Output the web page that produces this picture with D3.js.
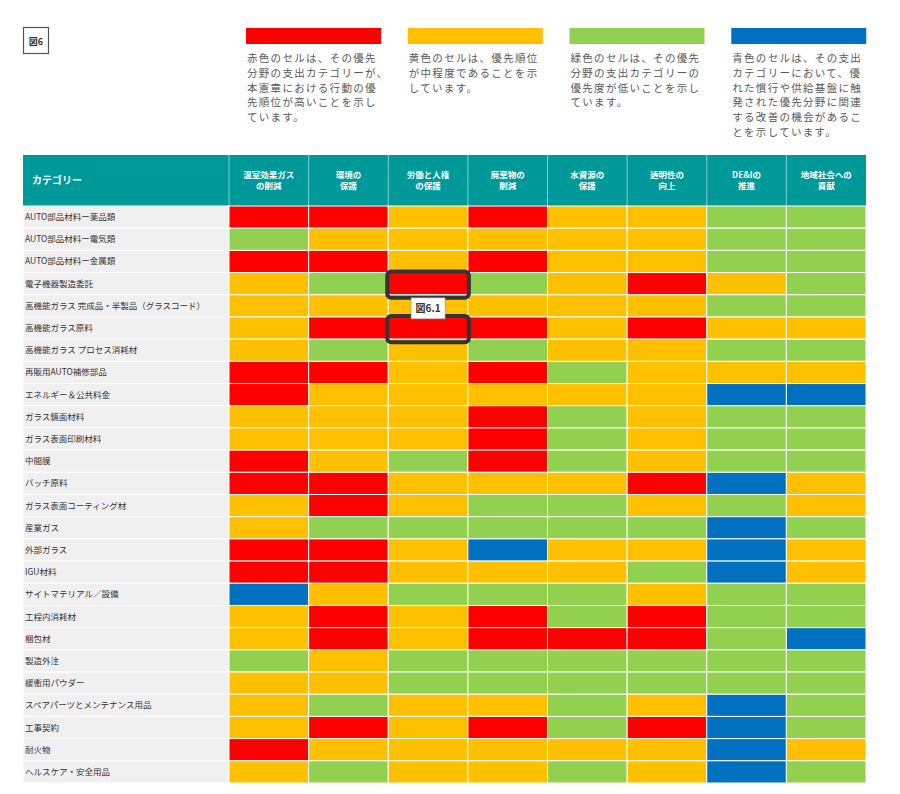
<!DOCTYPE html>
<html>
<head>
<meta charset="utf-8">
<script src="https://cdn.jsdelivr.net/npm/d3@7"></script>
<style>
  body { margin: 0; background: #fff; }
  svg { font-family: "Noto Sans CJK JP", "Noto Sans", sans-serif; }
</style>
</head>
<body>
<svg id="chart" width="900" height="794"></svg>
<script>
var columns = [
  '温室効果ガス\nの削減', '環境の\n保護', '労働と人権\nの保護', '廃棄物の\n削減',
  '水資源の\n保護', '透明性の\n向上', 'DE&Iの\n推進', '地域社会への\n貢献'
];

var categories = [
  'AUTO部品材料ー薬品類', 'AUTO部品材料ー電気類', 'AUTO部品材料ー金属類', '電子機器製造委託',
  '高機能ガラス 完成品・半製品（グラスコード）', '高機能ガラス原料', '高機能ガラス プロセス消耗材',
  '再販用AUTO補修部品', 'エネルギー＆公共料金', 'ガラス鏡面材料', 'ガラス表面印刷材料', '中間膜',
  'バッチ原料', 'ガラス表面コーティング材', '産業ガス', '外部ガラス', 'IGU材料',
  'サイトマテリアル／設備', '工程内消耗材', '梱包材', '製造外注', '緩衝用パウダー',
  'スペアパーツとメンテナンス用品', '工事契約', '耐火物', 'ヘルスケア・安全用品'
];

// R = high, Y = medium, G = low, B = opportunity
var priorities = [
  'RRYRYYGG', 'GYYYYYGG', 'RRYRYYGG', 'YGRGYRYG',
  'YYYYYYGG', 'YRRRYRYY', 'YGYGYYGG', 'RRYRGYYY',
  'RYYYYYBB', 'YYYRGYGG', 'YYYRGYGG', 'RYGRGYGG',
  'RRYYYRBY', 'YRYGGYGY', 'YGGGGGBG', 'RRYBYYBY',
  'RRYYYGBY', 'BYGGGYGG', 'YRYRGRGG', 'YRYRRRGB',
  'GYGGGGGG', 'YYGGGGGG', 'YGYYGYBG', 'YRYRGRBG',
  'RYYYYYBY', 'YGYYGYBG'
];

var levels = ['R', 'Y', 'G', 'B'];
var levelColors = ['#ff0000', '#ffc000', '#92d050', '#0070c0'];

var legendTexts = [
  ['赤色のセルは、その優先', '分野の支出カテゴリーが、', '本憲章における行動の優', '先順位が高いことを示し', 'ています。'],
  ['黄色のセルは、優先順位', 'が中程度であることを示', 'しています。'],
  ['緑色のセルは、その優先', '分野の支出カテゴリーの', '優先度が低いことを示し', 'ています。'],
  ['青色のセルは、その支出', 'カテゴリーにおいて、優', 'れた慣行や供給基盤に触', '発された優先分野に関連', 'する改善の機会があるこ', 'とを示しています。']
];

var highlights = [
  {cat: '電子機器製造委託', col: '労働と人権\nの保護'},
  {cat: '高機能ガラス原料', col: '労働と人権\nの保護'}
];

var color = d3.scaleOrdinal().domain(levels).range(levelColors);

var svg = d3.select('#chart');

var x = d3.scaleBand().domain(columns).range([229, 866]);
var y = d3.scaleBand().domain(categories).range([206, 783]);

// figure tag
var tag = svg.append('g');
tag.append('rect')
  .attr('x', 23.5).attr('y', 27.5).attr('width', 25).attr('height', 26)
  .attr('fill', '#fff').attr('stroke', '#555').attr('stroke-width', 1.2);
tag.append('text')
  .attr('x', 36).attr('y', 44.5).attr('text-anchor', 'middle')
  .attr('font-size', 9).attr('font-weight', 'bold').attr('fill', '#333')
  .text('図6');

// legend
var legendX = d3.scaleBand().domain(levels).range([246, 893]).paddingInner(0);
var legend = svg.append('g').selectAll('g')
  .data(levels)
  .join('g')
  .attr('transform', function(d) { return 'translate(' + legendX(d) + ',0)'; });

legend.append('rect')
  .attr('x', 0).attr('y', 28).attr('width', 135).attr('height', 16)
  .attr('fill', function(d) { return color(d); });

legend.append('text')
  .attr('font-size', 10.5).attr('fill', '#595959').attr('letter-spacing', 1.3)
  .selectAll('tspan')
  .data(function(d, i) { return legendTexts[i]; })
  .join('tspan')
  .attr('x', 1)
  .attr('y', function(d, i) { return 62 + i * 14.8; })
  .text(function(d) { return d; });

// header
var header = svg.append('g');
header.append('rect')
  .attr('x', 23).attr('y', 155).attr('width', 843).attr('height', 51)
  .attr('fill', '#009999');
header.append('text')
  .attr('x', 32).attr('y', 184)
  .attr('font-size', 10).attr('font-weight', 'bold').attr('fill', '#fff')
  .text('カテゴリー');

var colHead = header.selectAll('g.col')
  .data(columns)
  .join('g')
  .attr('class', 'col');

colHead.append('line')
  .attr('x1', function(d) { return x(d); })
  .attr('x2', function(d) { return x(d); })
  .attr('y1', 155).attr('y2', 206)
  .attr('stroke', '#7fcfcf').attr('stroke-width', 1);

colHead.append('text')
  .attr('text-anchor', 'middle')
  .attr('font-size', 8.5).attr('font-weight', 'bold').attr('fill', '#fff')
  .selectAll('tspan')
  .data(function(d) {
    var cx = x(d) + x.bandwidth() / 2;
    return d.split('\n').map(function(s) { return {s: s, cx: cx}; });
  })
  .join('tspan')
  .attr('x', function(d) { return d.cx; })
  .attr('y', function(d, i) { return 178 + i * 11; })
  .text(function(d) { return d.s; });

// category column
var rows = svg.append('g').selectAll('g.row')
  .data(categories)
  .join('g')
  .attr('class', 'row');

rows.append('rect')
  .attr('x', 23).attr('width', 206)
  .attr('y', function(d) { return y(d); })
  .attr('height', y.bandwidth())
  .attr('fill', '#f0f0f0').attr('stroke', '#fff').attr('stroke-width', 1);

rows.append('text')
  .attr('x', 25)
  .attr('y', function(d) { return y(d) + y.bandwidth() / 2 + 3; })
  .attr('font-size', 8.5).attr('fill', '#333')
  .text(function(d) { return d; });

// cells
var cells = [];
categories.forEach(function(cat, i) {
  columns.forEach(function(col, j) {
    cells.push({cat: cat, col: col, level: priorities[i][j]});
  });
});

svg.append('g').selectAll('rect')
  .data(cells)
  .join('rect')
  .attr('x', function(d) { return x(d.col); })
  .attr('y', function(d) { return y(d.cat); })
  .attr('width', x.bandwidth())
  .attr('height', y.bandwidth())
  .attr('fill', function(d) { return color(d.level); })
  .attr('stroke', '#fff').attr('stroke-width', 1);

// callout 図6.1
var callout = svg.append('g');
callout.selectAll('rect')
  .data(highlights)
  .join('rect')
  .attr('x', function(d) { return x(d.col) - 1; })
  .attr('y', function(d) { return y(d.cat) - 1; })
  .attr('width', x.bandwidth() + 2)
  .attr('height', y.bandwidth() + 4)
  .attr('rx', 4)
  .attr('fill', 'none').attr('stroke', '#333').attr('stroke-width', 4);

var mid = (y(highlights[0].cat) + y(highlights[1].cat) + y.bandwidth()) / 2 + 2;
var cx = x(highlights[0].col) + x.bandwidth() / 2;
callout.append('rect')
  .attr('x', cx - 17).attr('y', mid - 10).attr('width', 34).attr('height', 21)
  .attr('fill', '#fff').attr('stroke', '#999').attr('stroke-width', 0.6);
callout.append('text')
  .attr('x', cx).attr('y', mid + 4).attr('text-anchor', 'middle')
  .attr('font-size', 10).attr('font-weight', 'bold').attr('fill', '#333')
  .text('図6.1');
</script>
</body>
</html>
